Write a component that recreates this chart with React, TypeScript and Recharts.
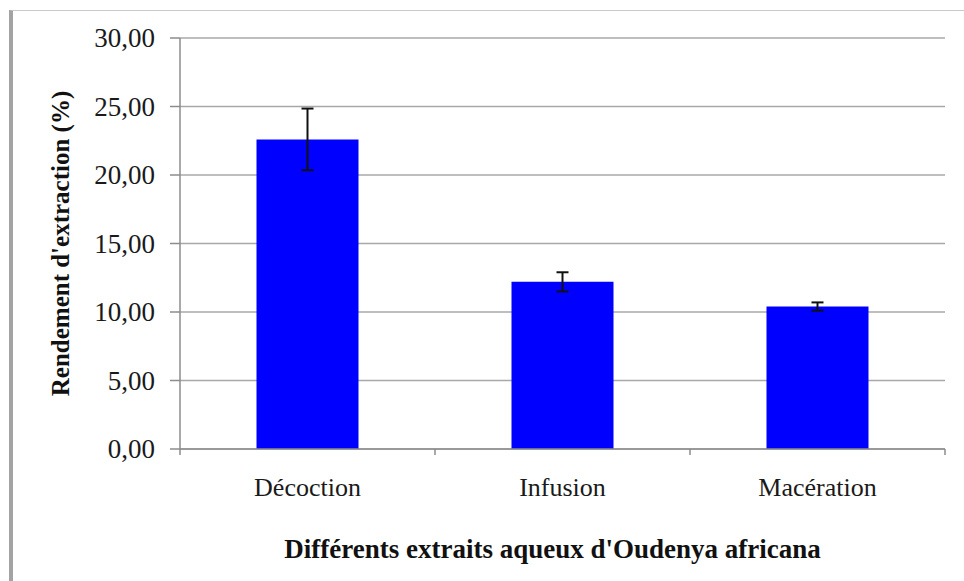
import React from "react"
import { BarChart, Bar, XAxis, YAxis, CartesianGrid, ErrorBar, Label } from "recharts"

const categories = ["Décoction", "Infusion", "Macération"]
const yields = [22.6, 12.2, 10.4]
const errors = [2.25, 0.7, 0.3]
const yTicks = [0, 5, 10, 15, 20, 25, 30]

const data = categories.map((name, i) => ({ name, value: yields[i], err: errors[i] }))

const FONT = "'Liberation Serif', 'Times New Roman', serif"
const AXIS = "#8c8c8c"

const fmt = (v: number) => v.toFixed(2).replace(".", ",")

function CategoryTick(props: any) {
    const { x, y, payload, index } = props
    const off = payload?.offset ?? 0
    const top = y - 29
    return (
        <g>
            <line x1={x + off} y1={top} x2={x + off} y2={top + 6} stroke={AXIS} strokeWidth={1.5} />
            {index === 0 && <line x1={x - off} y1={top} x2={x - off} y2={top + 6} stroke={AXIS} strokeWidth={1.5} />}
            <text x={x} y={y + 18} textAnchor="middle" fontSize={26} fontFamily={FONT} fill="#1a1a1a">
                {payload.value}
            </text>
        </g>
    )
}

function ValueTick(props: any) {
    const { x, y, payload } = props
    return (
        <text x={x} y={y + 9} textAnchor="end" fontSize={27} fontFamily={FONT} fill="#1a1a1a">
            {fmt(payload.value)}
        </text>
    )
}

export default function App() {
    return (
        <div style={{ position: "absolute", left: 0, top: 0, width: 964, height: 581, background: "#fff" }}>
            <div
                style={{
                    position: "absolute",
                    left: 9,
                    top: 10,
                    width: 955,
                    height: 571,
                    borderLeft: "4px solid #a3a3a3",
                    borderTop: "1px solid #c8c8c8",
                    boxSizing: "border-box",
                }}
            />
            <div style={{ position: "absolute", left: 0, top: 0 }}>
                <BarChart
                    width={964}
                    height={581}
                    data={data}
                    margin={{ top: 38, right: 19, left: 0, bottom: 0 }}
                    barCategoryGap="30%"
                >
                    <CartesianGrid vertical={false} stroke="#a8a8a8" strokeWidth={1.5} />
                    <XAxis
                        dataKey="name"
                        height={132}
                        axisLine={{ stroke: AXIS, strokeWidth: 1.5 }}
                        tickLine={false}
                        tickSize={6}
                        tickMargin={23}
                        tick={<CategoryTick />}
                        interval={0}
                    >
                        <Label
                            value="Différents extraits aqueux d'Oudenya africana"
                            position="insideBottom"
                            offset={23}
                            dx={-10}
                            style={{ fontFamily: FONT, fontSize: 27, fontWeight: "bold", fill: "#111" }}
                        />
                    </XAxis>
                    <YAxis
                        width={180}
                        domain={[0, 30]}
                        ticks={yTicks}
                        axisLine={{ stroke: AXIS, strokeWidth: 1.5 }}
                        tickLine={{ stroke: AXIS, strokeWidth: 1.5 }}
                        tickSize={10}
                        tickMargin={15}
                        tick={<ValueTick />}
                    >
                        <Label
                            value="Rendement d'extraction (%)"
                            angle={-90}
                            position="insideLeft"
                            offset={60}
                            textAnchor="middle"
                            style={{ fontFamily: FONT, fontSize: 25, fontWeight: "bold", fill: "#111", textAnchor: "middle" }}
                        />
                    </YAxis>
                    <Bar dataKey="value" fill="#0000ff" isAnimationActive={false}>
                        <ErrorBar dataKey="err" width={6} stroke="#111" strokeWidth={2} isAnimationActive={false} />
                    </Bar>
                </BarChart>
            </div>
        </div>
    )
}
